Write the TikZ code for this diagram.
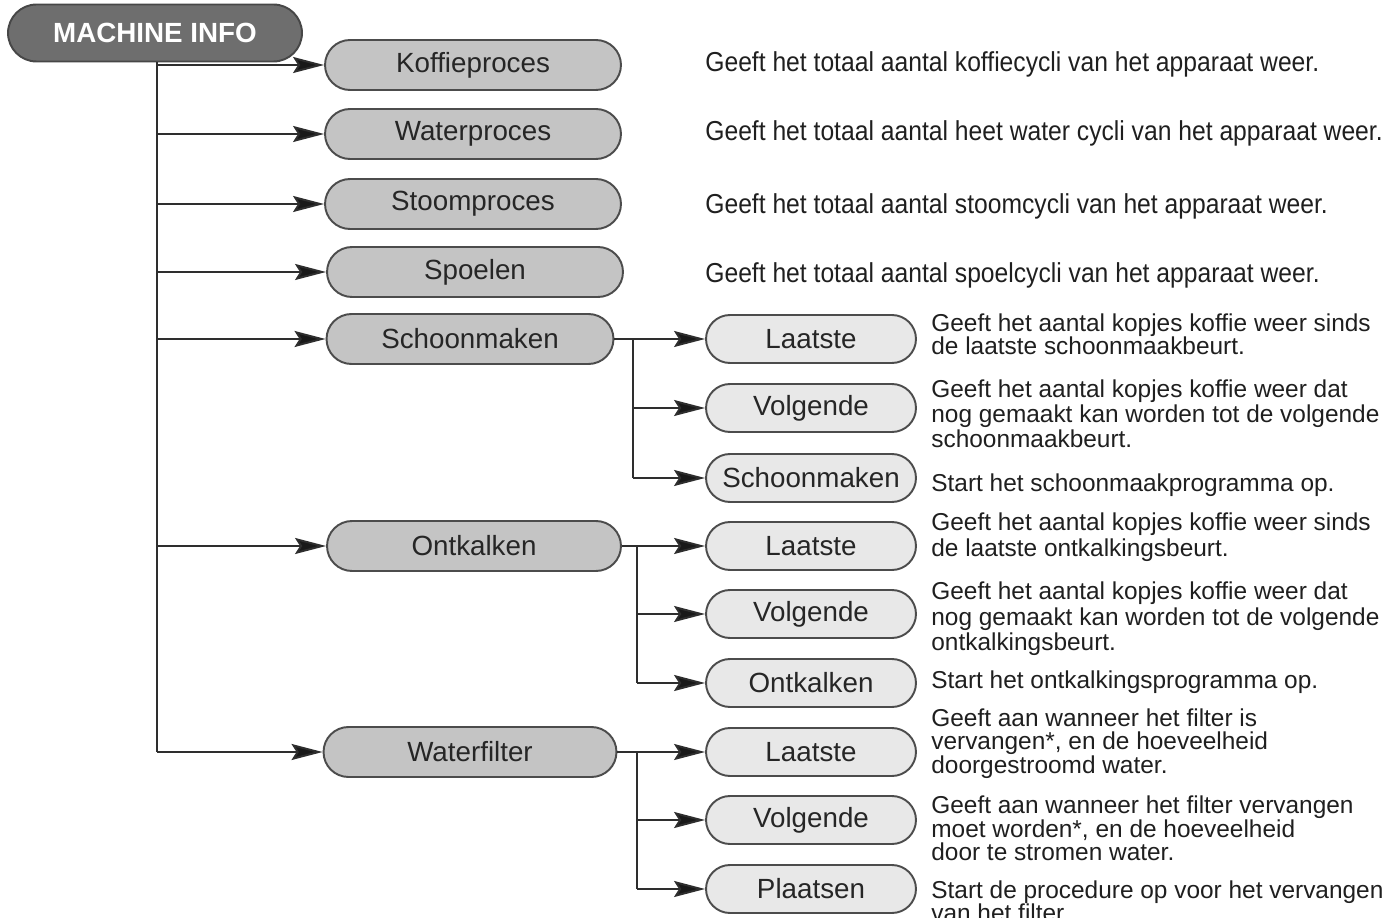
\documentclass[tikz,border=0pt]{standalone}
\usepackage{fontspec}
\setmainfont{Liberation Sans}
\newfontfamily\narrowfont[FakeStretch=0.9]{Liberation Sans}
\usetikzlibrary{shapes.misc,arrows.meta}
\definecolor{rootfill}{gray}{0.43}
\definecolor{rootline}{gray}{0.28}
\definecolor{midfill}{gray}{0.77}
\definecolor{lightfill}{gray}{0.91}
\definecolor{boxline}{gray}{0.30}
\definecolor{conn}{gray}{0.18}
\tikzset{
  pill/.style={rounded rectangle, draw=boxline, line width=1.1pt, inner sep=0pt, font=\fontsize{15.8}{18}\selectfont, text=black!85},
  rootbox/.style={pill, draw=rootline, fill=rootfill, minimum width=5.88cm, minimum height=1.14cm, text=white, font=\fontsize{15.8}{18}\selectfont\bfseries},
  lvlone/.style={pill, fill=midfill, minimum width=5.92cm, minimum height=1.0cm},
  lvltwo/.style={pill, fill=lightfill, minimum width=4.2cm, minimum height=0.96cm},
  desc/.style={anchor=west, inner sep=0pt, text=black!88, font=\narrowfont\fontsize{15.6}{18}\selectfont},
  subdesc/.style={anchor=west, inner sep=0pt, align=left, text=black!88},
  arr/.style={draw=conn, line width=1.1pt, -{Stealth[length=0.62cm, width=0.32cm, inset=0.1cm, fill=black!90]}},
  ln/.style={draw=conn, line width=1.1pt},
}
\begin{document}
\begin{tikzpicture}[x=0.02cm, y=-0.02cm]
\useasboundingbox (0,0) rectangle (1392,918);
\clip (0,0) rectangle (1392,918);

% root
\node[rootbox] (root) at (155,33) {MACHINE INFO};

% level 1
\node[lvlone] (k)  at (473,65)  {Koffieproces};
\node[lvlone] (w)  at (473,134) {Waterproces};
\node[lvlone] (st) at (473,204) {Stoomproces};
\node[lvlone] (sp) at (475,272) {Spoelen};
\node[lvlone, minimum width=5.74cm] (sc) at (470,339) {Schoonmaken};
\node[lvlone, minimum width=5.88cm] (on) at (474,546) {Ontkalken};
\node[lvlone, minimum width=5.86cm] (wf) at (470,752) {Waterfilter};

% level 2
\node[lvltwo] (scl) at (811,339) {Laatste};
\node[lvltwo] (scv) at (811,408) {Volgende};
\node[lvltwo] (scs) at (811,478) {Schoonmaken};
\node[lvltwo] (onl) at (811,546) {Laatste};
\node[lvltwo] (onv) at (811,614) {Volgende};
\node[lvltwo] (ono) at (811,683) {Ontkalken};
\node[lvltwo] (wfl) at (811,752) {Laatste};
\node[lvltwo] (wfv) at (811,820) {Volgende};
\node[lvltwo] (wfp) at (811,889) {Plaatsen};

% trunk
\coordinate (t0) at (157,62);
\draw[ln] (t0) -- (t0 |- wf.west);
\foreach \n in {k,w,st,sp,sc,on,wf}{
  \draw[arr] (t0 |- \n.west) -- (\n.west);
}

% Schoonmaken branch
\coordinate (sb) at (633,339);
\draw[arr] (sc.east) -- (scl.west);
\draw[ln] (sb) -- (sb |- scs.west);
\draw[arr] (sb |- scv.west) -- (scv.west);
\draw[arr] (sb |- scs.west) -- (scs.west);

% Ontkalken branch
\coordinate (ob) at (637,546);
\draw[arr] (on.east) -- (onl.west);
\draw[ln] (ob) -- (ob |- ono.west);
\draw[arr] (ob |- onv.west) -- (onv.west);
\draw[arr] (ob |- ono.west) -- (ono.west);

% Waterfilter branch
\coordinate (wb) at (637,752);
\draw[arr] (wf.east) -- (wfl.west);
\draw[ln] (wb) -- (wb |- wfp.west);
\draw[arr] (wb |- wfv.west) -- (wfv.west);
\draw[arr] (wb |- wfp.west) -- (wfp.west);

% level 1 descriptions
\node[desc] (dk)  at (705,64)  {Geeft het totaal aantal koffiecycli van het apparaat weer.};
\node[desc] (dw)  at (705,133) {Geeft het totaal aantal heet water cycli van het apparaat weer.};
\node[desc] (dst) at (705,206) {Geeft het totaal aantal stoomcycli van het apparaat weer.};
\node[desc] (dsp) at (705,275) {Geeft het totaal aantal spoelcycli van het apparaat weer.};

% level 2 descriptions
\node[subdesc, font=\fontsize{13.9}{13.1}\selectfont] (dscl) at (931,334)
  {Geeft het aantal kopjes koffie weer sinds\\de laatste schoonmaakbeurt.};
\node[subdesc, font=\fontsize{13.9}{14.2}\selectfont] (dscv) at (931,414)
  {Geeft het aantal kopjes koffie weer dat\\nog gemaakt kan worden tot de volgende\\schoonmaakbeurt.};
\node[subdesc, font=\fontsize{13.9}{14.2}\selectfont] (dscs) at (931,485)
  {Start het schoonmaakprogramma op.};
\node[subdesc, font=\fontsize{13.9}{14.8}\selectfont] (donl) at (931,537)
  {Geeft het aantal kopjes koffie weer sinds\\de laatste ontkalkingsbeurt.};
\node[subdesc, font=\fontsize{13.9}{14.5}\selectfont] (donv) at (931,619)
  {Geeft het aantal kopjes koffie weer dat\\nog gemaakt kan worden tot de volgende\\ontkalkingsbeurt.};
\node[subdesc, font=\fontsize{13.9}{14.2}\selectfont] (dono) at (931,682)
  {Start het ontkalkingsprogramma op.};
\node[subdesc, font=\fontsize{13.9}{12.8}\selectfont] (dwfl) at (931,744)
  {Geeft aan wanneer het filter is\\vervangen*, en de hoeveelheid\\doorgestroomd water.};
\node[subdesc, font=\fontsize{13.9}{12.6}\selectfont] (dwfv) at (931,828)
  {Geeft aan wanneer het filter vervangen\\moet worden*, en de hoeveelheid\\door te stromen water.};
\node[subdesc, font=\fontsize{13.9}{13.1}\selectfont] (dwfp) at (931,901)
  {Start de procedure op voor het vervangen\\van het filter.};
\end{tikzpicture}
\end{document}
